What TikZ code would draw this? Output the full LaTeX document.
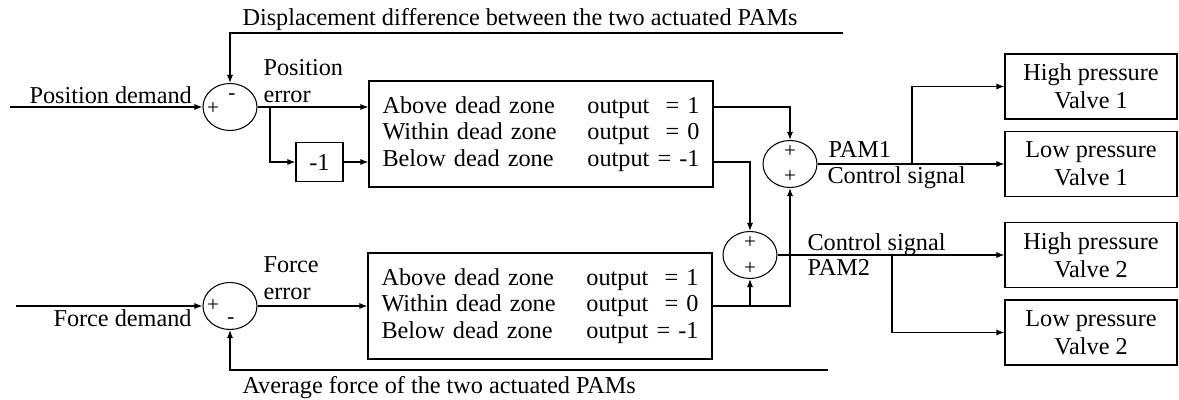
\documentclass[tikz,border=0pt]{standalone}
\usepackage{fontspec}
\setmainfont{Liberation Serif}
\usepackage{tikz}
\usetikzlibrary{positioning}
\usetikzlibrary{calc}
\usetikzlibrary{shapes.geometric}
\usetikzlibrary{arrows.meta}
\tikzset{
	sumnode/.style={draw, ellipse, minimum width=10.8mm, minimum height=9.4mm, inner sep=0pt},
	sgn/.style={inner sep=0pt, font=\fontsize{12}{13}\selectfont},
	dzbox/.style={draw, rectangle, minimum width=68.8mm, minimum height=21.2mm, text width=63.4mm, inner sep=0pt, align=left},
	valvebox/.style={draw, rectangle, minimum width=34.4mm, minimum height=13mm, align=center},
	gainbox/.style={draw, rectangle, minimum width=9.4mm, minimum height=7.8mm},
	lbl/.style={inner sep=0pt, anchor=base west},
	arr/.style={-{Latex[length=1.6mm,width=1.2mm]}}
}

\begin{document}
\begin{tikzpicture}[on grid, line width=0.6pt, font=\fontsize{13.8}{15.1}\selectfont]
	
	\node[sumnode] at (0,0) (sumP) {};
	\useasboundingbox (-46mm,21.4mm) rectangle (189.8mm,-58.6mm);
	\node[dzbox, below right=5.4mm and 62.2mm of sumP] (dzP) {Above dead zone\hfill output\ \ = 1\\Within dead zone\hfill output\ \ = 0\\Below dead zone\hfill output = -1};
	\node[gainbox, below right=11mm and 17.9mm of sumP] (negP) {-1};
	\node[sumnode, below=39.8mm of sumP] (sumF) {};
	\node[dzbox, right=62mm of sumF] (dzF) {Above dead zone\hfill output\ \ = 1\\Within dead zone\hfill output\ \ = 0\\Below dead zone\hfill output = -1};
	\node[sumnode, above right=10.2mm and 42mm of dzF] (sumB) {};
	\node[sumnode, above right=18.2mm and 8mm of sumB] (sumA) {};
	\node[valvebox, right=60.2mm of sumA] (LP1) {Low pressure\\[0.8pt]Valve 1};
	\node[valvebox, above=15.5mm of LP1] (HP1) {High pressure\\[0.8pt]Valve 1};
	\node[valvebox, right=68.2mm of sumB] (HP2) {High pressure\\[0.8pt]Valve 2};
	\node[valvebox, below=15.5mm of HP2] (LP2) {Low pressure\\[0.8pt]Valve 2};
	\coordinate[left=44mm of sumP] (inP); \coordinate[left=42.8mm of sumF] (inF);
	\coordinate[above right=14.8mm and 122.6mm of sumP] (fbP);
	\coordinate[below right=12.8mm and 119.6mm of sumF] (fbF);
	\coordinate[right=8mm of sumP] (brP);
	\coordinate[right=24.4mm of sumA] (brA); \coordinate[right=28.4mm of sumB] (brB);
	\node[sgn, below left=0.4mm and 3.4mm of sumP] (sPp) {+}; \node[sgn, above right=2mm and 0.4mm of sumP] (sPm) {-};
	\node[sgn, left=3.4mm of sumF] (sFp) {+}; \node[sgn, below right=3mm and 0.2mm of sumF] (sFm) {-};
	\node[sgn, above=2.4mm of sumA] (sAp) {+}; \node[sgn, below=2.6mm of sumA] (sAq) {+};
	\node[sgn, above=2.4mm of sumB] (sBp) {+}; \node[sgn, below=2.8mm of sumB] (sBq) {+};
	\node[lbl] at ($(sumP)+(2.4mm,16.2mm)$) (tDisp) {Displacement difference between the two actuated PAMs};
	\node[lbl] at ($(sumP)+(-40.2mm,0.6mm)$) (tPd) {Position demand};
	\node[inner sep=0pt, anchor=south west, align=left] at ($(sumP)+(6.6mm,0.8mm)$) (tPe) {Position\\error};
	\node[lbl] at ($(sumF)+(-35.4mm,-4.2mm)$) (tFd) {Force demand};
	\node[inner sep=0pt, anchor=south west, align=left] at ($(sumF)+(6.6mm,1.2mm)$) (tFe) {Force\\error};
	\node[lbl] at ($(sumF)+(2.4mm,-17.6mm)$) (tAvg) {Average force of the two actuated PAMs};
	\node[lbl] at ($(sumA)+(7.6mm,1.2mm)$) (tA1) {PAM1}; \node[lbl] at ($(sumA)+(7.4mm,-4mm)$) (tA2) {Control signal};
	\node[lbl] at ($(sumB)+(11.4mm,0.8mm)$) (tB1) {Control signal}; \node[lbl] at ($(sumB)+(11.4mm,-4.2mm)$) (tB2) {PAM2};
	\draw[arr] (inP) -- (sumP); \draw[arr] (inF) -- (sumF);
	\draw[arr] (fbP) -| (sumP); \draw[arr] (fbF) -| (sumF);
	\draw[arr] (sumP) -- (sumP -| dzP.west); \draw[arr] (brP) |- (negP); \draw[arr] (negP) -- (negP -| dzP.west);
	\draw[arr] (sumF) -- (dzF);
	\draw[arr] (dzP.east |- sumP) -| (sumA); \draw[arr] (dzP.east |- negP) -| (sumB);
	\draw[arr] (dzF) -| (sumA); \draw[arr] (dzF.east -| sumB) -- (sumB);
	\draw[arr] (sumA) -- (LP1); \draw[arr] (brA) |- (HP1);
	\draw[arr] (sumB) -- (HP2); \draw[arr] (brB) |- (LP2);
	\end{tikzpicture}
\end{document}
